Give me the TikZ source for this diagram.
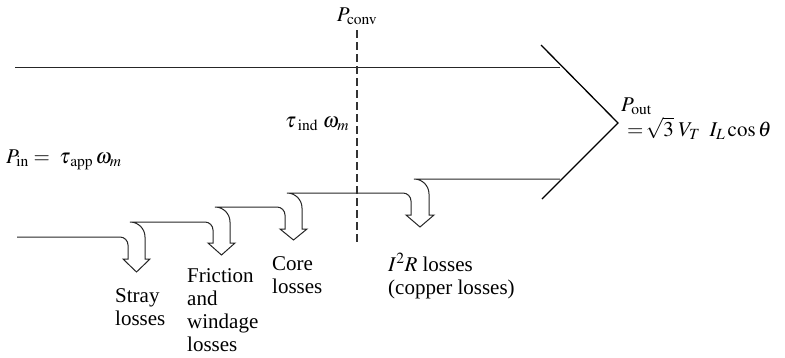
\documentclass[tikz,border=0pt]{standalone}
\usepackage{mathptmx}
\usepackage{fontspec}
\setmainfont{Liberation Serif}
\tikzset{
  flow/.style={line width=1pt, draw=black!85},
  headline/.style={line width=1.3pt, draw=black, line join=miter},
  convline/.style={line width=1.1pt, draw=black!80, dash pattern=on 8pt off 4pt},
  lbl/.style={inner sep=0pt, font=\fontsize{21}{23}\selectfont},
  losslbl/.style={lbl, align=left, anchor=north west},
}
\begin{document}
\begin{tikzpicture}[x=1pt,y=-1pt]
\useasboundingbox (0,0) rectangle (785,357);
% main power flow band
\coordinate (topstart) at (15,67);
\coordinate (topend) at (560,67);
\coordinate (headtop) at (541,45);
\coordinate (headtip) at (618,123);
\coordinate (headbot) at (542,199);
\draw[flow] (topstart) -- (topend);
\draw[headline] (headtop) -- (headtip) -- (headbot);
% stepped lower boundary with loss arrows
\draw[flow, line join=miter]
  (17,237) -- (120,237) .. controls (124.4,237) and (128,240.6) .. (128,245)
  -- (128,259) -- (123,259) -- (136.5,272) -- (150,259) -- (145,259)
  -- (145,237) .. controls (145,228.7) and (138.3,222) .. (130,222)
  -- (205,222) .. controls (209.4,222) and (213,225.6) .. (213,230)
  -- (213,243) -- (208,243) -- (221.5,255) -- (235,243) -- (230,243)
  -- (230,222) .. controls (230,213.7) and (223.3,207) .. (215,207)
  -- (277,207) .. controls (281.4,207) and (285,210.6) .. (285,215)
  -- (285,229) -- (280,229) -- (293.5,240) -- (307,229) -- (302,229)
  -- (302,208) .. controls (302,199.7) and (295.3,193) .. (287,193)
  -- (403,193) .. controls (407.4,193) and (411,196.6) .. (411,201)
  -- (411,215) -- (406,215) -- (420,227) -- (434,215) -- (429,215)
  -- (429,194) .. controls (429,185.7) and (422.3,179) .. (414,179)
  -- (560,179);
% conversion boundary
\coordinate (convtop) at (357,30);
\coordinate (convbot) at (357,243);
\draw[convline] (convtop) -- (convbot);
% labels
\node[lbl, anchor=base] (pconv) at (357,21) {$P_{\mathrm{conv}}$};
\node[lbl, anchor=base west] (tind) at (285,127) {$\tau_{\;\mathrm{ind}}\;\omega_m$};
\node[lbl, anchor=base west] (pin) at (6,163) {$P_{\mathrm{in}} = \;\tau_{\,\mathrm{app}}\,\omega_m$};
\node[lbl, anchor=base west] (pout) at (621,111) {$P_{\mathrm{out}}$};
\node[lbl, anchor=base west] (poutb) at (627,136) {$=\!\sqrt{3}\;V_T\;\;I_L\cos\theta$};
\node[losslbl] (stray) at (115,288) {Stray\\losses};
\node[losslbl] (fric) at (187,268) {Friction\\and\\windage\\losses};
\node[losslbl] (core) at (272,256) {Core\\losses};
\node[losslbl] (cu) at (388,253) {$I^2R$ losses\\(copper losses)};
\end{tikzpicture}
\end{document}
